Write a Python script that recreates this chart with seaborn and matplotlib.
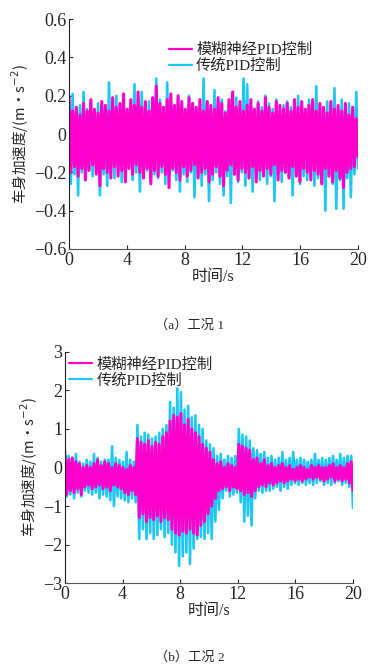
import numpy as np
import seaborn as sns
import matplotlib.pyplot as plt

# ---- data (peak / trough envelopes, one pair every 0.25 s) ----
mag1_hi = [0.20, 0.12, 0.14, 0.10, 0.16, 0.12, 0.18, 0.13, 0.11, 0.17,
           0.15, 0.12, 0.19, 0.14, 0.16, 0.21, 0.13, 0.18, 0.15, 0.22,
           0.14, 0.17, 0.12, 0.19, 0.25, 0.16, 0.14, 0.18, 0.21, 0.15,
           0.20, 0.17, 0.13, 0.19, 0.16, 0.14, 0.18, 0.12, 0.17, 0.15,
           0.13, 0.19, 0.16, 0.11, 0.18, 0.22, 0.14, 0.17, 0.12, 0.15,
           0.18, 0.13, 0.16, 0.12, 0.19, 0.14, 0.11, 0.17, 0.15, 0.13,
           0.16, 0.12, 0.18, 0.14, 0.17, 0.13, 0.15, 0.18, 0.12, 0.16,
           0.14, 0.11, 0.17, 0.13, 0.15, 0.12, 0.16, 0.10, 0.14, 0.08]
mag1_lo = [-0.20, -0.17, -0.22, -0.18, -0.24, -0.19, -0.16, -0.21, -0.27, -0.18,
           -0.20, -0.23, -0.17, -0.22, -0.19, -0.25, -0.18, -0.21, -0.16, -0.20,
           -0.23, -0.18, -0.26, -0.19, -0.22, -0.17, -0.21, -0.28, -0.18, -0.20,
           -0.24, -0.17, -0.22, -0.19, -0.16, -0.23, -0.20, -0.18, -0.25, -0.21,
           -0.17, -0.22, -0.27, -0.19, -0.16, -0.21, -0.24, -0.18, -0.20, -0.23,
           -0.17, -0.25, -0.19, -0.22, -0.18, -0.21, -0.16, -0.24, -0.19, -0.20,
           -0.23, -0.17, -0.22, -0.25, -0.18, -0.20, -0.24, -0.19, -0.21, -0.26,
           -0.18, -0.22, -0.25, -0.19, -0.23, -0.28, -0.20, -0.18, -0.17, -0.12]
cyan1_hi = [0.14, 0.21, 0.12, 0.15, 0.22, 0.13, 0.17, 0.11, 0.16, 0.14,
            0.12, 0.27, 0.15, 0.20, 0.13, 0.18, 0.12, 0.16, 0.26, 0.14,
            0.22, 0.13, 0.17, 0.15, 0.29, 0.18, 0.14, 0.27, 0.16, 0.12,
            0.19, 0.15, 0.13, 0.20, 0.16, 0.14, 0.12, 0.29, 0.17, 0.13,
            0.23, 0.15, 0.18, 0.12, 0.16, 0.14, 0.19, 0.13, 0.29, 0.26,
            0.15, 0.12, 0.17, 0.14, 0.20, 0.16, 0.13, 0.18, 0.12, 0.15,
            0.17, 0.14, 0.12, 0.20, 0.16, 0.13, 0.18, 0.15, 0.25, 0.14,
            0.12, 0.17, 0.15, 0.24, 0.13, 0.18, 0.14, 0.16, 0.12, 0.22]
cyan1_lo = [-0.26, -0.21, -0.32, -0.20, -0.24, -0.19, -0.22, -0.18, -0.32, -0.21,
            -0.27, -0.20, -0.23, -0.19, -0.25, -0.21, -0.18, -0.24, -0.20, -0.30,
            -0.22, -0.19, -0.25, -0.21, -0.23, -0.20, -0.26, -0.22, -0.19, -0.24,
            -0.30, -0.21, -0.25, -0.20, -0.33, -0.22, -0.27, -0.21, -0.35, -0.24,
            -0.20, -0.26, -0.32, -0.22, -0.36, -0.21, -0.25, -0.20, -0.27, -0.23,
            -0.30, -0.21, -0.24, -0.19, -0.26, -0.22, -0.35, -0.21, -0.25, -0.20,
            -0.23, -0.32, -0.21, -0.26, -0.22, -0.24, -0.20, -0.27, -0.23, -0.25,
            -0.40, -0.22, -0.26, -0.39, -0.24, -0.39, -0.23, -0.33, -0.21, -0.18]

mag2_hi = [0.30, 0.20, 0.25, 0.15, 0.10, 0.00, 0.05, 0.00,
           0.10, 0.20, 0.05, 0.15, 0.10, 0.00, 0.10, 0.05,
           0.00, -0.05, 0.05, 0.00, 0.75, 0.65, 0.60, 0.70,
           0.55, 0.65, 0.60, 0.80, 0.90, 1.20, 1.35, 1.30,
           1.40, 1.10, 1.25, 1.00, 0.90, 0.80, 0.60, 0.50,
           0.40, 0.20, 0.10, 0.15, 0.00, 0.10, 0.05, 0.00,
           0.60, 0.55, 0.50, 0.45, 0.20, 0.25, 0.10, 0.20,
           0.05, 0.10, 0.00, 0.05, 0.10, 0.00, 0.05, -0.05,
           0.00, 0.05, 0.00, -0.05, 0.05, 0.00, 0.05, 0.00,
           0.00, 0.05, 0.10, 0.00, 0.05, 0.00, 0.10, 0.15]
mag2_lo = [-0.70, -0.60, -0.65, -0.55, -0.70, -0.50, -0.45, -0.55,
           -0.50, -0.45, -0.55, -0.50, -0.60, -0.45, -0.50, -0.55,
           -0.65, -0.70, -0.60, -0.70, -1.30, -1.20, -1.40, -1.30,
           -1.35, -1.25, -1.40, -1.30, -1.35, -1.60, -1.70, -1.75,
           -1.65, -1.70, -1.60, -1.70, -1.75, -1.50, -1.40, -1.20,
           -1.00, -0.80, -0.60, -0.55, -0.50, -0.60, -0.50, -0.55,
           -0.60, -0.70, -0.65, -0.75, -0.60, -0.50, -0.45, -0.50,
           -0.40, -0.45, -0.40, -0.35, -0.40, -0.35, -0.30, -0.35,
           -0.30, -0.35, -0.30, -0.25, -0.30, -0.25, -0.30, -0.35,
           -0.30, -0.25, -0.35, -0.30, -0.35, -0.30, -0.40, -0.60]
cyan2_hi = [0.45, 0.30, 0.25, 0.35, 0.15, 0.10, 0.20, 0.15,
            0.35, 0.25, 0.15, 0.20, 0.20, 0.55, 0.25, 0.20,
            0.15, 0.40, 0.20, 0.15, 1.10, 0.80, 0.90, 0.85,
            0.75, 0.80, 0.90, 1.00, 1.10, 1.70, 1.55, 2.05,
            1.95, 1.50, 1.60, 1.30, 1.35, 1.10, 1.00, 0.70,
            0.60, 0.50, 0.30, 0.35, 0.20, 0.30, 0.25, 0.30,
            1.00, 0.85, 0.80, 0.70, 0.50, 0.45, 0.35, 0.40,
            0.25, 0.30, 0.20, 0.25, 0.40, 0.20, 0.25, 0.40,
            0.20, 0.25, 0.20, 0.15, 0.20, 0.35, 0.20, 0.25,
            0.20, 0.25, 0.30, 0.20, 0.35, 0.25, 0.30, 0.30]
cyan2_lo = [-0.75, -0.70, -0.80, -0.65, -0.75, -0.60, -0.65, -0.70,
            -0.65, -0.80, -0.70, -0.75, -0.85, -1.00, -0.75, -0.80,
            -0.85, -0.90, -0.80, -0.90, -1.85, -1.60, -1.85, -1.70,
            -1.85, -1.75, -1.60, -1.80, -1.70, -2.00, -2.20, -2.55,
            -2.30, -2.20, -2.50, -2.10, -1.85, -1.80, -1.85, -1.70,
            -1.85, -1.40, -1.10, -0.80, -0.60, -0.75, -0.70, -0.65,
            -0.90, -1.40, -1.25, -1.50, -0.80, -0.60, -0.65, -0.60,
            -0.60, -0.55, -0.50, -0.60, -0.50, -0.55, -0.45, -0.40,
            -0.45, -0.40, -0.45, -0.40, -0.45, -0.40, -0.35, -0.45,
            -0.40, -0.45, -0.40, -0.35, -0.45, -0.40, -0.50, -1.05]

legend_labels = ['模糊神经PID控制', '传统PID控制']
captions = ['（a）工况 1', '（b）工况 2']

MAG = '#ff00cc'
CYAN = '#1ec8f2'


def zigzag(hi, lo):
    # alternate peak / trough so the dense line fills the band like the original
    return np.column_stack([hi, lo]).ravel()


sns.set_style('ticks')
plt.rcParams['font.family'] = ['Liberation Serif', 'Noto Sans CJK SC']
plt.rcParams['xtick.direction'] = 'in'
plt.rcParams['ytick.direction'] = 'in'

fig = plt.figure(figsize=(3.74, 6.72), dpi=100)
ax1 = fig.add_axes([0.1845, 0.6295, 0.773, 0.342])
ax2 = fig.add_axes([0.1738, 0.132, 0.770, 0.3446])

panels = [
    (ax1, zigzag(mag1_hi, mag1_lo), zigzag(cyan1_hi, cyan1_lo), (-0.6, 0.6),
     [-0.6, -0.4, -0.2, 0, 0.2, 0.4, 0.6], ['−0.6', '−0.4', '−0.2', '0', '0.2', '0.4', '0.6'],
     (0.345, 0.898)),
    (ax2, zigzag(mag2_hi, mag2_lo), zigzag(cyan2_hi, cyan2_lo), (-3, 3),
     [-3, -2, -1, 0, 1, 2, 3], ['−3', '−2', '−1', '0', '1', '2', '3'],
     (0.015, 0.977)),
]

for ax, mag, cyan, ylim, yt, ytl, leg_pos in panels:
    t = np.linspace(0, 20, len(mag))
    sns.lineplot(x=t, y=cyan, ax=ax, color=CYAN, linewidth=1.9, label=legend_labels[1], errorbar=None)
    sns.lineplot(x=t, y=mag, ax=ax, color=MAG, linewidth=2.2, label=legend_labels[0], errorbar=None)
    ax.set_xlim(0, 20)
    ax.set_ylim(*ylim)
    ax.set_xticks([0, 4, 8, 12, 16, 20])
    ax.set_yticks(yt)
    ax.set_yticklabels(ytl)
    ax.tick_params(labelsize=13, length=3, width=0.8, pad=2)
    for lab in ax.get_xticklabels() + ax.get_yticklabels():
        lab.set_family('Liberation Serif')
    sns.despine(ax=ax)
    ax.spines['left'].set_color('#222222')
    ax.spines['bottom'].set_color('#555555')
    ax.set_xlabel('时间/s', fontsize=11.5, labelpad=0)
    ax.set_ylabel('车身加速度/(m·s$^{-2}$)', fontsize=10.5, labelpad=2,
                  family=['Noto Sans CJK SC', 'DejaVu Sans'])
    handles, labels = ax.get_legend_handles_labels()
    leg = ax.legend(handles[::-1], labels[::-1], loc='upper left', bbox_to_anchor=leg_pos,
                    frameon=False, fontsize=11, handlelength=1.5, handletextpad=0.3,
                    labelspacing=0.12, borderaxespad=0, borderpad=0)
    for line in leg.get_lines():
        line.set_linewidth(1.6)

fig.text(0.508, 1 - 325 / 672, captions[0], ha='center', va='center', fontsize=9.5)
fig.text(0.508, 1 - 657 / 672, captions[1], ha='center', va='center', fontsize=9.5)

fig.savefig('out.png', dpi=100, facecolor='white')
